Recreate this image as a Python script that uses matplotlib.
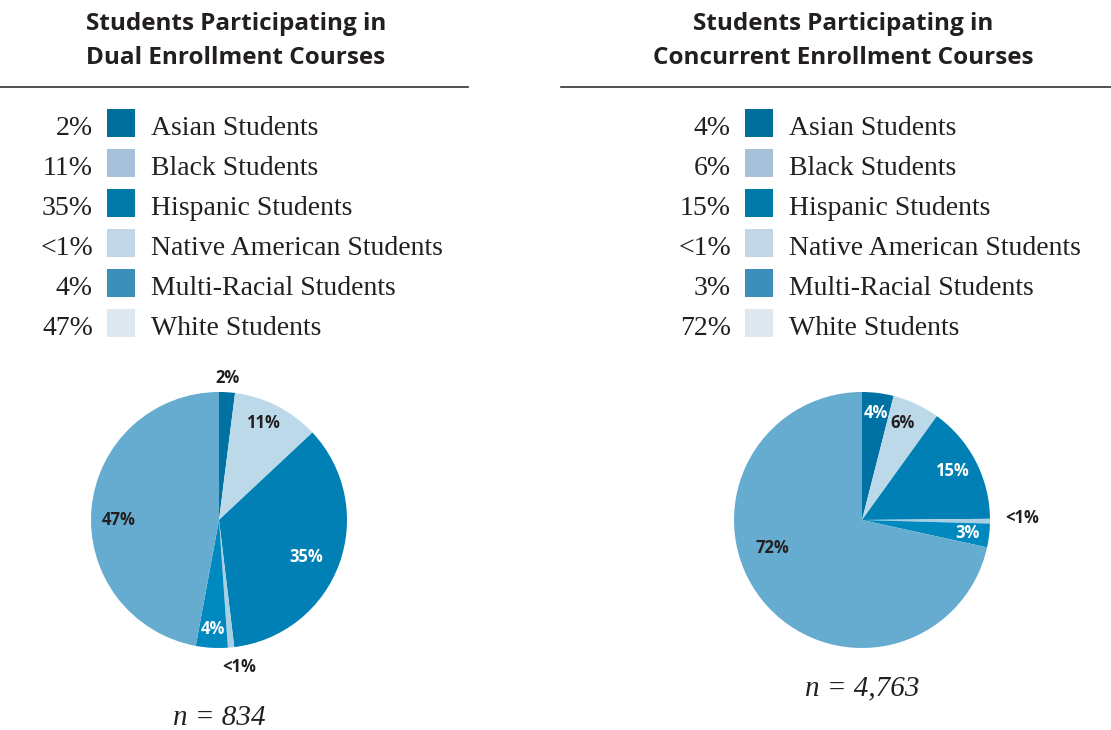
import numpy as np
import matplotlib
matplotlib.use("Agg")
import matplotlib.pyplot as plt
from matplotlib.patches import Rectangle

# data
groups = ["Asian Students", "Black Students", "Hispanic Students",
          "Native American Students", "Multi-Racial Students", "White Students"]
dual_values = [2, 11, 35, 0.8, 4, 47]
dual_labels = ["2%", "11%", "35%", "<1%", "4%", "47%"]
conc_values = [4, 6, 15, 0.6, 3, 72]
conc_labels = ["4%", "6%", "15%", "<1%", "3%", "72%"]
dual_n = "834"
conc_n = "4,763"
titles = ["Students Participating in\nDual Enrollment Courses",
          "Students Participating in\nConcurrent Enrollment Courses"]

# styles
legend_colors = ["#006f9e", "#a6c2da", "#0078a8", "#c1d7e8", "#3b8fb8", "#dde8f1"]
slice_colors = ["#0071a3", "#bcd9ea", "#0080b4", "#a9cfe4", "#0089bf", "#66acd0"]
dark = "#231f20"

W, H = 1111, 730
fig = plt.figure(figsize=(W / 100, H / 100), dpi=100)
bg = fig.add_axes([0, 0, 1, 1])
bg.set_xlim(0, W)
bg.set_ylim(H, 0)
bg.axis("off")


def draw_panel(title, cx_title, rule, pct_x, labels_text, pie_c, values,
               pie_labels, label_style, n_text, n_y):
    for i, line in enumerate(title.split("\n")):
        bg.text(cx_title, 24 + 34 * i, line, ha="center", va="center",
                fontsize=17.5, fontweight="bold", family="Open Sans", color=dark)
    bg.plot(rule, [87, 87], color="#333333", lw=1.2)

    for i, (grp, pct) in enumerate(zip(groups, labels_text)):
        yc = 123 + 40 * i
        bg.text(pct_x, yc + 12, pct, ha="right", va="baseline",
                fontsize=20, family="Liberation Serif", color=dark)
        bg.add_patch(Rectangle((pct_x + 14, yc - 14), 28, 28,
                               color=legend_colors[i], lw=0))
        bg.text(pct_x + 58, yc + 12, grp, ha="left", va="baseline",
                fontsize=20, family="Liberation Serif", color=dark)

    R = 128
    ext = 1.45
    px, py = pie_c
    ax = fig.add_axes([(px - ext * R) / W, (H - py - ext * R) / H,
                       2 * ext * R / W, 2 * ext * R / H])
    wedges, _ = ax.pie(values, colors=slice_colors, startangle=90,
                       counterclock=False, radius=1.0,
                       wedgeprops=dict(linewidth=0))
    ax.set_xlim(-ext, ext)
    ax.set_ylim(-ext, ext)
    ax.set_aspect("equal")
    ax.axis("off")
    for w, lab, (rf, dcw, col) in zip(wedges, pie_labels, label_style):
        mid = (w.theta1 + w.theta2) / 2 - dcw
        a = np.deg2rad(mid)
        ax.text(rf * np.cos(a), rf * np.sin(a), lab, ha="center", va="center",
                fontsize=12, fontweight="bold", family="Open Sans", color=col)

    bg.text(px, n_y, "n = " + n_text, ha="center", va="center",
            fontsize=21, style="italic", family="Liberation Serif", color=dark)


dual_style = [(1.11, 0, dark), (0.83, -2.6, dark), (0.74, 3.2, "white"),
              (1.16, -2.5, dark), (0.85, 0, "white"), (0.78, -5.4, dark)]
conc_style = [(0.84, 0.3, "white"), (0.82, -2.4, dark), (0.80, -1.2, "white"),
              (1.25, -1.3, dark), (0.83, 0.2, "white"), (0.73, 21.4, dark)]

draw_panel(titles[0], 236, [0, 468], 93, dual_labels, (219, 520), dual_values,
           dual_labels, dual_style, dual_n, 718)
draw_panel(titles[1], 843, [561, 1111], 731, conc_labels, (862, 520),
           conc_values, conc_labels, conc_style, conc_n, 688)

fig.savefig("out.png", dpi=100)
